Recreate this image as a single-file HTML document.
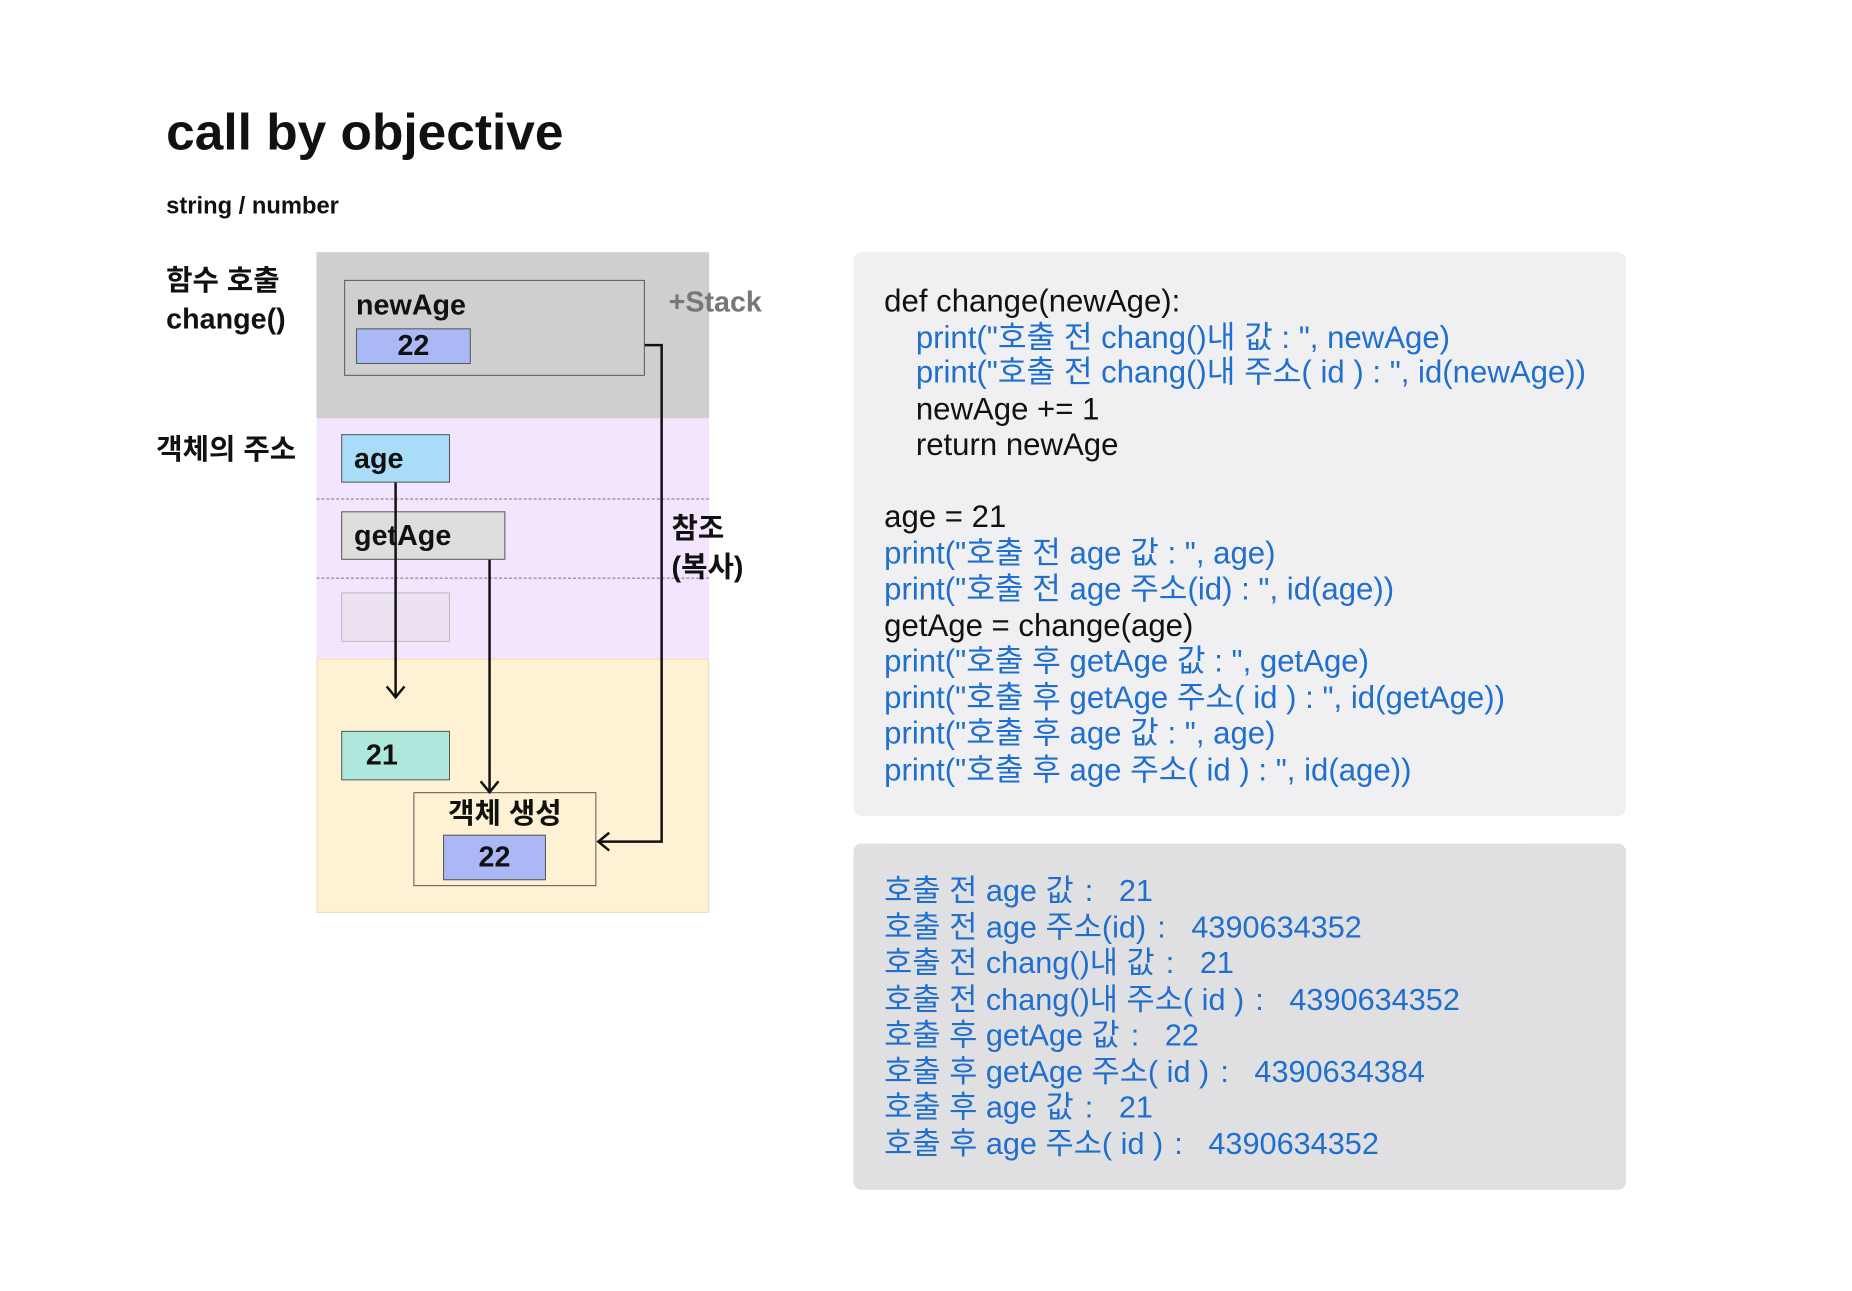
<!DOCTYPE html>
<html><head><meta charset="utf-8"><style>
body{margin:0;width:1852px;height:1291px;background:#fff;position:relative;overflow:hidden;font-family:"Liberation Sans","Noto Sans CJK KR",sans-serif;}
#w{position:absolute;left:0;top:0;width:1852px;height:1291px;transform:scale(0.989);transform-origin:0 0;}
.a{position:absolute;}
.t{position:absolute;white-space:nowrap;line-height:36px;}
.b{font-weight:bold;color:#111;}
.code{font-size:31.5px;color:#111;}
.out{font-size:31px;}
.bl{color:#1f6fcf;}
.box{position:absolute;box-sizing:border-box;border:1px solid #555;}
</style></head><body><div id="w">
<div class="t b" style="left:168px;top:108px;font-size:52px;line-height:52px">call by objective</div>
<div class="t b" style="left:168px;top:191px;font-size:24px">string / number</div>
<div class="t b" style="left:168px;top:266px;font-size:29px">함수 호출</div>
<div class="t b" style="left:168px;top:305px;font-size:29px">change()</div>
<div class="t b" style="left:158px;top:437px;font-size:29px">객체의 주소</div>

<div class="a" style="left:320px;top:255px;width:397px;height:168px;background:#cfcfcf"></div>
<div class="a" style="left:320px;top:423px;width:397px;height:243px;background:#f2e5fd"></div>
<div class="a" style="left:320px;top:666px;width:397px;height:257px;background:#fff2d4;border:1px solid #e6dcc0;box-sizing:border-box"></div>
<div class="a" style="left:320px;top:504px;width:397px;border-top:1.5px dashed #777"></div>
<div class="a" style="left:320px;top:584px;width:397px;border-top:1.5px dashed #777"></div>

<div class="box" style="left:348px;top:283px;width:304px;height:97px;background:#cfcfcf"></div>
<div class="t b" style="left:360px;top:291px;font-size:29px">newAge</div>
<div class="box" style="left:360px;top:332px;width:116px;height:36px;background:#aab8f5"></div>
<div class="t b" style="left:360px;top:332px;width:116px;text-align:center;font-size:29px">22</div>

<div class="box" style="left:345px;top:439px;width:110px;height:49px;background:#a8dcf7"></div>
<div class="t b" style="left:358px;top:446px;font-size:29px">age</div>
<div class="box" style="left:345px;top:517px;width:166px;height:49px;background:#dedede"></div>
<div class="t b" style="left:358px;top:524px;font-size:29px">getAge</div>
<div class="box" style="left:345px;top:599px;width:110px;height:50px;background:#ece2f2;border-color:#bbb"></div>
<div class="box" style="left:345px;top:739px;width:110px;height:50px;background:#aee7db"></div>
<div class="t b" style="left:370px;top:746px;font-size:29px">21</div>
<div class="box" style="left:418px;top:801px;width:185px;height:95px;background:#fff2d4"></div>
<div class="t b" style="left:418px;top:805px;width:185px;text-align:center;font-size:29px">객체 생성</div>
<div class="box" style="left:448px;top:844px;width:104px;height:46px;background:#aab8f5"></div>
<div class="t b" style="left:448px;top:849px;width:104px;text-align:center;font-size:29px">22</div>

<svg class="a" style="left:0;top:0" width="1852" height="1291">
<g stroke="#111" stroke-width="2.5" fill="none">
<path d="M400 488 V705"/><path d="M391 694 L400 705 L409 694"/>
<path d="M495 566 V801"/><path d="M486 790 L495 801 L504 790"/>
<path d="M652 349 H669 V851 H605"/><path d="M616 842 L605 851 L616 860"/>
</g></svg>

<div class="t b" style="left:676px;top:288px;font-size:29px;color:#777">+Stack</div>
<div class="t b" style="left:679px;top:517px;font-size:29px">참조</div>
<div class="t b" style="left:679px;top:556px;font-size:29px">(복사)</div>

<div class="a" style="left:863px;top:255px;width:781px;height:570px;background:#f0f0f2;border-radius:8px"></div>
<div class="a" style="left:863px;top:853px;width:781px;height:350px;background:#e0e0e2;border-radius:8px"></div>

<div class="t code" style="left:894px;top:286px">def change(newAge):</div>
<div class="t code bl" style="left:926px;top:323px">print("호출 전 chang()내 값 : ", newAge)</div>
<div class="t code bl" style="left:926px;top:358px">print("호출 전 chang()내 주소( id ) : ", id(newAge))</div>
<div class="t code" style="left:926px;top:395px">newAge += 1</div>
<div class="t code" style="left:926px;top:431px">return newAge</div>
<div class="t code" style="left:894px;top:504px">age = 21</div>
<div class="t code bl" style="left:894px;top:541px">print("호출 전 age 값 : ", age)</div>
<div class="t code bl" style="left:894px;top:577px">print("호출 전 age 주소(id) : ", id(age))</div>
<div class="t code" style="left:894px;top:614px">getAge = change(age)</div>
<div class="t code bl" style="left:894px;top:650px">print("호출 후 getAge 값 : ", getAge)</div>
<div class="t code bl" style="left:894px;top:687px">print("호출 후 getAge 주소( id ) : ", id(getAge))</div>
<div class="t code bl" style="left:894px;top:723px">print("호출 후 age 값 : ", age)</div>
<div class="t code bl" style="left:894px;top:760px">print("호출 후 age 주소( id ) : ", id(age))</div>

<div class="t out bl" style="left:894px;top:883px">호출 전 age 값 &#8202;:&nbsp;&nbsp; 21</div>
<div class="t out bl" style="left:894px;top:920px">호출 전 age 주소(id) &#8202;:&nbsp;&nbsp; 4390634352</div>
<div class="t out bl" style="left:894px;top:956px">호출 전 chang()내 값 &#8202;:&nbsp;&nbsp; 21</div>
<div class="t out bl" style="left:894px;top:993px">호출 전 chang()내 주소( id ) &#8202;:&nbsp;&nbsp; 4390634352</div>
<div class="t out bl" style="left:894px;top:1029px">호출 후 getAge 값 &#8202;:&nbsp;&nbsp; 22</div>
<div class="t out bl" style="left:894px;top:1066px">호출 후 getAge 주소( id ) &#8202;:&nbsp;&nbsp; 4390634384</div>
<div class="t out bl" style="left:894px;top:1102px">호출 후 age 값 &#8202;:&nbsp;&nbsp; 21</div>
<div class="t out bl" style="left:894px;top:1139px">호출 후 age 주소( id ) &#8202;:&nbsp;&nbsp; 4390634352</div>
</div></body></html>
